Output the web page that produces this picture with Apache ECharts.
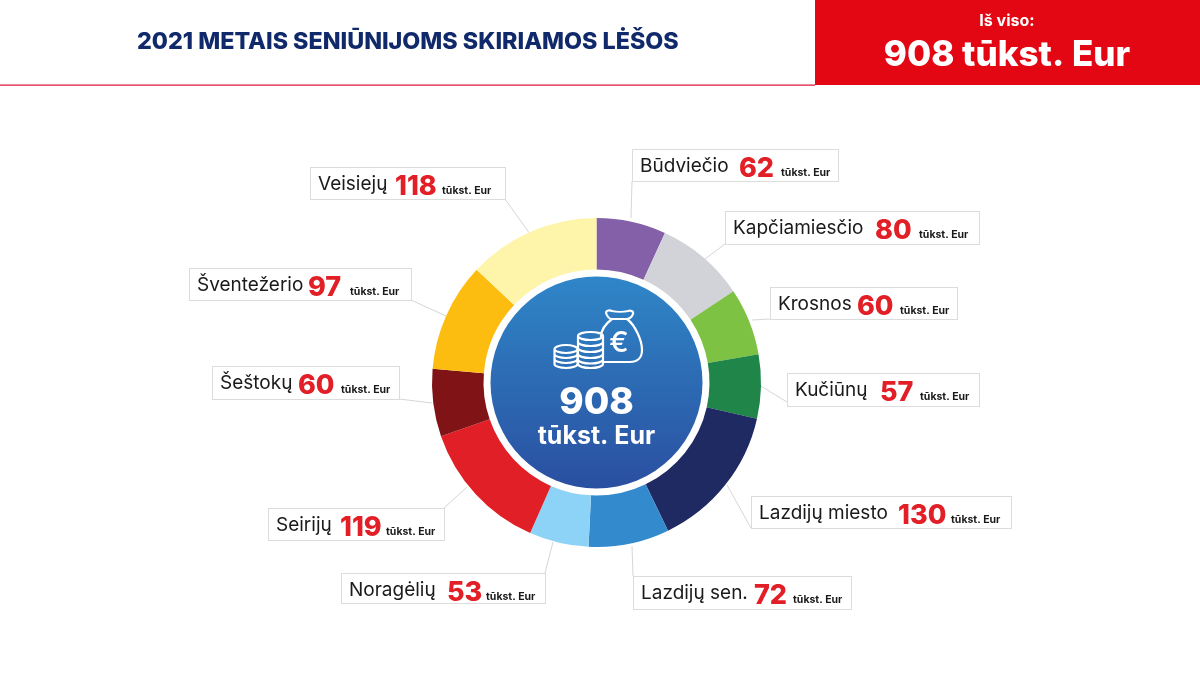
<!DOCTYPE html>
<html><head><meta charset="utf-8">
<style>html,body{margin:0;padding:0;background:#fff}#c{width:1200px;height:675px}</style>
<script src="https://cdn.jsdelivr.net/npm/echarts@6/dist/echarts.min.js"></script>
</head><body><div id="c"></div>
<script>
const categories = ['Būdviečio','Kapčiamiesčio','Krosnos','Kučiūnų','Lazdijų miesto','Lazdijų sen.','Noragėlių','Seirijų','Šeštokų','Šventežerio','Veisiejų'];
const values = [62,80,60,57,130,72,53,119,60,97,118];
const colors = ['#8460a9','#d1d3d8','#7dc243','#1f8548','#1f2a62','#338bce','#8dd3f7','#e11f26','#7f1315','#fdbd10','#fef5aa'];
const unit = 'tūkst. Eur';
const titleText = '2021 METAIS SENIŪNIJOMS SKIRIAMOS LĖŠOS';
const totalLabel = 'Iš viso:';
const totalText = '908 tūkst. Eur';
const centerValue = '908';

// label box layout: left, top, right, bottom, value x, unit x, name x
const boxes = [
 [632,149,838,181,739,781,640],[725,211,979,244,875,919,733],[770,287,957,319,857,900,778],
 [787,373,979,406,880,920,795],[751,496,1011,528,898,951,759],[633,576,851,609,754,793,641],
 [341,573,545,603,447,486,349],[268,508,444,540,339,385,275],[212,366,399,399,297,340,219],
 [189,268,411,300,309,351,198],[310,167,505,199,395,442,318]];
// leader lines: box end point and ring end point
const leaders = [
 [[632,181],[631,218]],[[725,244],[705,259]],[[770,319],[752,320]],[[787,402],[761,386]],
 [[751,528],[727,485]],[[633,576],[632,546]],[[545,573],[553,542]],
 [[444,508],[467,487]],[[399,399],[432,403]],[[411,300],[446,316]],[[505,199],[530,234]]];

const FONT='Inter';
const CX=596.5, CY=382.5;
const iconPath='M0.5 39a11.5 4 0 1 0 23 0a11.5 4 0 1 0 -23 0M0.5 39V54a11.5 4 0 0 0 23 0V39M0.5 44a11.5 4 0 0 0 23 0M0.5 49a11.5 4 0 0 0 23 0'
 +'M24 26a12.5 4 0 1 0 25 0a12.5 4 0 1 0 -25 0M24 26V54a12.5 4 0 0 0 25 0V26M24 32a12.5 4 0 0 0 25 0M24 38a12.5 4 0 0 0 25 0M24 44a12.5 4 0 0 0 25 0M24 49.5a12.5 4 0 0 0 25 0'
 +'M58 9C50 15 47 22 47 27M73 9C81 15 88 30 88 40C88 48 83 52 76 52H50'
 +'M52 3C52 0 56 0 58 1C62 2 70 2 74 1C76 0 80 1 79 4C78 7 75 9 73 9H58C55 9 53 6 52 3Z';
echarts.graphic.registerShape('moneyIcon',echarts.graphic.extendPath(iconPath,{}));
const chart=echarts.init(document.getElementById('c'),null,{renderer:'canvas'});
const ringData=categories.map((n,i)=>{
  const b=boxes[i];
  return {name:n,value:values[i],itemStyle:{color:colors[i]},
    label:{width:b[2]-b[0]-8,height:b[3]-b[1]-1,
      rich:{n:{width:b[4]-b[6],fontFamily:FONT,fontSize:19,color:'#1a1a1a'},
        v:{width:b[5]-b[4],fontFamily:FONT,fontSize:27,fontWeight:800,color:'#e21f26',padding:[5,0,0,0]},
        u:{fontFamily:FONT,fontSize:10.5,fontWeight:700,color:'#1a1a1a',padding:[14,0,0,0]}}}};
});
chart.setOption({
  backgroundColor:'#ffffff',animation:false,
  title:{text:titleText,left:132,top:25,textStyle:{fontFamily:FONT,fontSize:23.3,fontWeight:800,color:'#10296a'}},
  graphic:[
    {type:'rect',z:1,shape:{x:815,y:0,width:385,height:85},style:{fill:'#e30613'}},
    {type:'rect',z:1,shape:{x:0,y:84.5,width:815,height:1.2},style:{fill:'#d9193a'}},
    {type:'text',z:2,x:1007,y:21,style:{text:totalLabel,fontFamily:FONT,fontSize:16,fontWeight:700,fill:'#fff',align:'center',verticalAlign:'middle'}},
    {type:'text',z:2,x:1007,y:55,style:{text:totalText,fontFamily:FONT,fontSize:35,fontWeight:800,fill:'#fff',align:'center',verticalAlign:'middle'}},
    {type:'moneyIcon',z:20,x:554,y:310,shape:{},style:{fill:null,stroke:'#fff',lineWidth:2.2}},
    {type:'text',z:20,x:619,y:343,style:{text:'€',fontFamily:FONT,fontSize:29,fontWeight:500,fill:'#fff',align:'center',verticalAlign:'middle'}},
    {type:'text',z:20,x:596.5,y:403,style:{text:centerValue,fontFamily:FONT,fontSize:37,fontWeight:800,fill:'#fff',align:'center',verticalAlign:'middle'}},
    {type:'text',z:20,x:596.5,y:436,style:{text:unit,fontFamily:FONT,fontSize:25,fontWeight:700,fill:'#fff',align:'center',verticalAlign:'middle'}}
  ],
  series:[
    {type:'pie',silent:true,center:[CX,CY],radius:[0,106],label:{show:false},labelLine:{show:false},
     data:[{value:1,itemStyle:{color:new echarts.graphic.LinearGradient(0,0,0,1,[{offset:0,color:'#2f86c8'},{offset:1,color:'#2a4fa0'}])}}]},
    {type:'pie',silent:true,center:[CX,CY],radius:[113,164.5],startAngle:90,clockwise:true,
     avoidLabelOverlap:false,
     label:{show:true,position:'outside',backgroundColor:'#fff',borderColor:'#dcdcdc',borderWidth:1,
       align:'left',verticalAlign:'top',padding:[0,0,0,7],
       formatter:p=>`{n|${p.name}}{v|${p.value}}{u|${unit}}`},
     labelLine:{show:true,lineStyle:{color:'#d6d6d6',width:1}},
     labelLayout:function(p){const i=p.dataIndex,b=boxes[i];
       return {x:b[0]+1,y:b[1]+1,align:'left',verticalAlign:'top',hideOverlap:false,labelLinePoints:[leaders[i][0],leaders[i][0],leaders[i][1]]};},
     data:ringData}
  ]
});
</script></body></html>
